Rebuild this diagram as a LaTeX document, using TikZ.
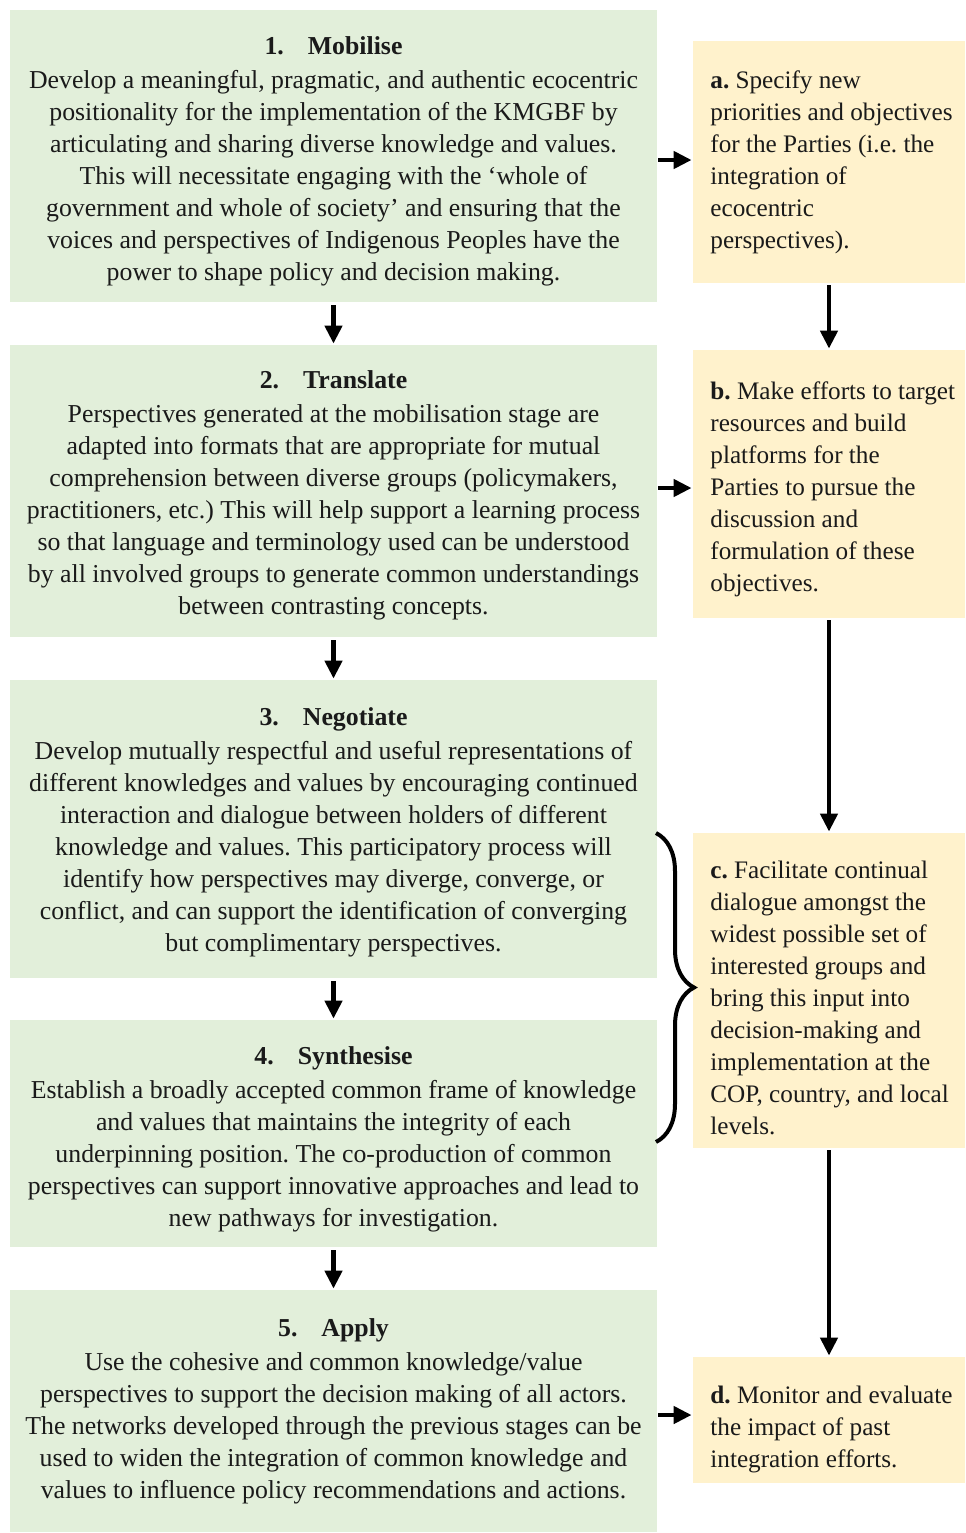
\documentclass[tikz,border=0pt]{standalone}
\usepackage{fontspec}
\setmainfont{Liberation Serif}
\usetikzlibrary{arrows.meta,decorations.pathreplacing}
\definecolor{boxgreen}{HTML}{E2EFDA}
\definecolor{boxyellow}{HTML}{FFF2CC}
\definecolor{txt}{HTML}{1A1A1A}
\frenchspacing
\begin{document}
\begin{tikzpicture}[x=0.5pt,y=-0.5pt,
  stagebox/.style={fill=boxgreen, draw=none, inner sep=0pt, minimum width=323.5pt},
  stagetext/.style={inner sep=0pt, align=center, text=txt,
    font=\fontsize{12.9}{16}\selectfont\frenchspacing},
  actbox/.style={fill=boxyellow, draw=none, inner sep=0pt, minimum width=136pt},
  acttext/.style={inner sep=0pt, align=left, anchor=west, text=txt,
    font=\fontsize{12.6}{16}\selectfont\frenchspacing},
  arr/.style={line width=2.2pt, -{Triangle[length=9pt,width=8.5pt]}},
  bracestyle/.style={line width=2pt, decorate,
    decoration={brace, amplitude=19pt}}]
\useasboundingbox (0,0) rectangle (965,1533);
\fill[white] (0,0) rectangle (965,1533);

% stage boxes
\node[stagebox, minimum height=146pt]   (g1) at (333.5,156) {};
\node[stagebox, minimum height=146pt]   (g2) at (333.5,491) {};
\node[stagebox, minimum height=149pt]   (g3) at (333.5,829) {};
\node[stagebox, minimum height=113.5pt] (g4) at (333.5,1133.5) {};
\node[stagebox, minimum height=121pt]   (g5) at (333.5,1411) {};

% action boxes
\node[actbox, minimum height=121pt]   (ya) at (829,162) {};
\node[actbox, minimum height=134pt]   (yb) at (829,484) {};
\node[actbox, minimum height=157.5pt] (yc) at (829,990.5) {};
\node[actbox, minimum height=63pt]    (yd) at (829,1420) {};

\node[stagetext] (t1) at (333.5,161) {%
\textbf{1.\hspace{12pt}Mobilise}\\[1pt]
Develop a meaningful, pragmatic, and authentic ecocentric\\
positionality for the implementation of the KMGBF by\\
articulating and sharing diverse knowledge and values.\\
This will necessitate engaging with the ‘whole of\\
government and whole of society’ and ensuring that the\\
voices and perspectives of Indigenous Peoples have the\\
power to shape policy and decision making.};

\node[stagetext] (t2) at (333.5,495) {%
\textbf{2.\hspace{12pt}Translate}\\[1pt]
Perspectives generated at the mobilisation stage are\\
adapted into formats that are appropriate for mutual\\
comprehension between diverse groups (policymakers,\\
practitioners, etc.) This will help support a learning process\\
so that language and terminology used can be understood\\
by all involved groups to generate common understandings\\
between contrasting concepts.};

\node[stagetext] (t3) at (333.5,832) {%
\textbf{3.\hspace{12pt}Negotiate}\\[1pt]
Develop mutually respectful and useful representations of\\
different knowledges and values by encouraging continued\\
interaction and dialogue between holders of different\\
knowledge and values. This participatory process will\\
identify how perspectives may diverge, converge, or\\
conflict, and can support the identification of converging\\
but complimentary perspectives.};

\node[stagetext] (t4) at (333.5,1139) {%
\textbf{4.\hspace{12pt}Synthesise}\\[1pt]
Establish a broadly accepted common frame of knowledge\\
and values that maintains the integrity of each\\
underpinning position. The co-production of common\\
perspectives can support innovative approaches and lead to\\
new pathways for investigation.};

\node[stagetext] (t5) at (333.5,1411) {%
\textbf{5.\hspace{12pt}Apply}\\[1pt]
Use the cohesive and common knowledge/value\\
perspectives to support the decision making of all actors.\\
The networks developed through the previous stages can be\\
used to widen the integration of common knowledge and\\
values to influence policy recommendations and actions.};

\node[acttext] (ta) at (710,162) {%
\textbf{a.} Specify new\\
priorities and objectives\\
for the Parties (i.e. the\\
integration of\\
ecocentric\\
perspectives).};

\node[acttext] (tb) at (710,489.5) {%
\textbf{b.} Make efforts to target\\
resources and build\\
platforms for the\\
Parties to pursue the\\
discussion and\\
formulation of these\\
objectives.};

\node[acttext] (tc) at (710,998) {%
\textbf{c.} Facilitate continual\\
dialogue amongst the\\
widest possible set of\\
interested groups and\\
bring this input into\\
decision-making and\\
implementation at the\\
COP, country, and local\\
levels.};

\node[acttext] (td) at (710,1429) {%
\textbf{d.} Monitor and evaluate\\
the impact of past\\
integration efforts.};

% vertical arrows between stages
\draw[arr, shorten <=1.5pt, shorten >=0.5pt] (g1) -- (g2);
\draw[arr, shorten <=1.5pt, shorten >=0.5pt] (g2) -- (g3);
\draw[arr, shorten <=1.5pt, shorten >=0.5pt] (g3) -- (g4);
\draw[arr, shorten <=1.5pt, shorten >=0.5pt] (g4) -- (g5);

% vertical arrows between actions
\draw[arr, shorten <=1pt, shorten >=0.5pt] (ya) -- (yb);
\draw[arr, shorten <=1pt, shorten >=0.5pt] (yb) -- (yc);
\draw[arr, shorten <=1pt, shorten >=0.5pt] (yc) -- (yd);

% horizontal arrows
\draw[arr, shorten <=0.5pt, shorten >=0.5pt] (g1.east |- 0,160) -- (ya.west |- 0,160);
\draw[arr, shorten <=0.5pt, shorten >=0.5pt] (g2.east |- 0,488) -- (yb.west |- 0,488);
\draw[arr, shorten <=0.5pt, shorten >=0.5pt] (g5.east |- 0,1415) -- (yd.west |- 0,1415);

% brace
\coordinate (bt) at (656,833);
\coordinate (bb) at (656,1142);
\draw[bracestyle] (bt) -- (bb);
\end{tikzpicture}
\end{document}
